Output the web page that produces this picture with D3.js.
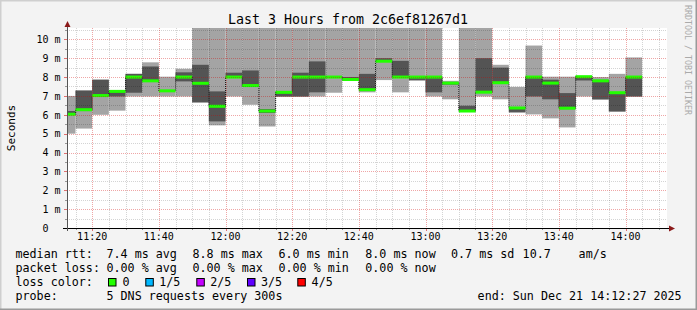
<!DOCTYPE html>
<html>
<head>
<meta charset="utf-8">
<script src="https://cdn.jsdelivr.net/npm/d3@7"></script>
<style>
html, body { margin: 0; padding: 0; background: #f3f3f3; }
svg { display: block; font-family: "DejaVu Sans Mono", monospace; }
</style>
</head>
<body>
<svg id="chart" width="697" height="310"></svg>
<script>
// --- DONNÉES (pas de 5 min, 5 pings DNS triés) ---
const stepStart = ["11:10","11:15","11:20","11:25","11:30","11:35","11:40","11:45","11:50","11:55",
                   "12:00","12:05","12:10","12:15","12:20","12:25","12:30","12:35","12:40","12:45",
                   "12:50","12:55","13:00","13:05","13:10","13:15","13:20","13:25","13:30","13:35",
                   "13:40","13:45","13:50","13:55","14:00"];
// valeurs en ms
const pingMin = [5.0,5.27,6.0,6.22,6.97,6.97,6.97,6.97,6.65,5.44,6.97,6.53,5.38,6.95,6.95,6.97,7.17,7.85,7.19,7.84,
                 7.19,7.82,6.97,6.82,6.17,6.97,6.82,6.1,6.02,5.81,5.33,6.97,6.8,6.16,6.96];
const ping2   = [6.0,6.2,6.98,6.97,7.17,7.75,7.25,7.77,6.66,5.65,7.95,7.52,6.1,6.97,6.97,7.19,7.95,7.86,7.3,8.8,
                 7.97,7.83,7.19,7.6,6.18,7.17,7.68,6.15,6.97,6.82,6.3,7.82,6.82,6.18,6.97];
const median  = [6.03,6.27,7.02,7.24,8.0,7.8,7.27,8.0,7.67,6.45,8.0,7.55,6.2,7.19,8.0,8.0,8.0,7.87,7.33,8.84,
                 8.0,8.0,8.0,7.68,6.2,7.2,7.7,6.36,8.0,7.68,6.35,8.02,7.8,7.17,8.0];
const ping4   = [6.2,7.28,7.86,7.28,8.17,8.56,7.3,8.25,8.65,7.24,8.23,8.35,6.3,7.22,8.23,8.83,8.05,8.0,8.17,9.0,
                 8.86,8.02,8.02,7.72,6.48,9.0,8.5,6.4,8.05,7.86,7.15,8.05,7.85,7.2,8.02];
const pingMax = [7.0,7.3,7.86,7.28,8.17,8.78,8.02,8.44,12,12,12,12,12,12,12,12,12,12,12,12,
                 12,12,12,7.8,12,12,8.65,7.48,9.67,8.02,8.02,8.05,8.0,8.17,9.04];
const yTicks = [0,1,2,3,4,5,6,7,8,9,10];

const lossLegend = [
    { label: "0",   color: "#22ff00" },
    { label: "1/5", color: "#00b8ff" },
    { label: "2/5", color: "#c400ff" },
    { label: "3/5", color: "#6000ff" },
    { label: "4/5", color: "#ff0000" }
];

const W = 697, H = 310;
const plot = { left: 67, right: 667, top: 28, bottom: 228 };
const parse = d3.timeParse("%Y-%m-%d %H:%M:%S");
const tEnd = parse("2025-12-21 14:12:27");
const tStart = parse("2025-12-21 11:12:27");

const x = d3.scaleTime().domain([tStart, tEnd]).range([plot.left, plot.right]);
const y = d3.scaleLinear().domain([0, 10.6]).range([plot.bottom, plot.top]);

const rows = stepStart.map((s, i) => {
    const t0 = parse(`2025-12-21 ${s}:00`);
    return { t0, t1: d3.timeMinute.offset(t0, 5), min: pingMin[i], p2: ping2[i], med: median[i], p4: ping4[i], max: pingMax[i] };
});

const svg = d3.select("#chart");

// cadre façon rrdtool
svg.append("rect").attr("width", W).attr("height", H).attr("fill", "#f3f3f3");
svg.append("path").attr("d", `M0,${H} V0 H${W}`).attr("fill", "none").attr("stroke", "#cfcfcf").attr("stroke-width", 3);
svg.append("path").attr("d", `M0,${H} H${W} V0`).attr("fill", "none").attr("stroke", "#9a9a9a").attr("stroke-width", 3);

svg.append("rect").attr("x", plot.left).attr("y", plot.top)
    .attr("width", plot.right - plot.left).attr("height", plot.bottom - plot.top).attr("fill", "#fff");

svg.append("clipPath").attr("id", "clip").append("rect")
    .attr("x", plot.left).attr("y", plot.top)
    .attr("width", plot.right - plot.left).attr("height", plot.bottom - plot.top);

const g = svg.append("g").attr("clip-path", "url(#clip)");
const sx0 = d => Math.max(x(d.t0), plot.left);
const sw = d => x(d.t1) - sx0(d);

// fumée : min..max clair, p2..p4 foncé
g.selectAll(".smoke-l").data(rows).join("rect")
    .attr("x", sx0).attr("width", sw)
    .attr("y", d => y(d.max)).attr("height", d => y(d.min) - y(d.max))
    .attr("fill", "#a4a4a4");
g.selectAll(".smoke-d").data(rows).join("rect")
    .attr("x", sx0).attr("width", sw)
    .attr("y", d => y(d.p4)).attr("height", d => y(d.p2) - y(d.p4))
    .attr("fill", "#545454");

// liaisons verticales de la médiane
const stepLine = d3.line().curve(d3.curveStepAfter).x(d => x(d.t)).y(d => y(d.v));
const medPts = rows.map(d => ({ t: d.t0, v: d.med }));
medPts.push({ t: rows[rows.length - 1].t1, v: rows[rows.length - 1].med });
g.append("path").attr("d", stepLine(medPts))
    .attr("fill", "none").attr("stroke", "#111").attr("stroke-width", 1).attr("stroke-dasharray", "1,1");

g.selectAll(".med").data(rows).join("rect")
    .attr("x", sx0).attr("width", sw)
    .attr("y", d => y(d.med) - 1.5).attr("height", 3)
    .attr("fill", lossLegend[0].color);

// grille
const minorT = d3.timeMinute.every(5).range(tStart, tEnd).filter(t => t.getMinutes() % 20 !== 0);
const majorT = d3.timeMinute.every(20).range(tStart, tEnd);
const minorY = d3.range(0.5, 10.6, 1);
const grid = svg.append("g").attr("fill", "none").attr("stroke-width", 1).attr("stroke-dasharray", "1,1");
grid.selectAll(".gx").data(minorT).join("line")
    .attr("x1", d => Math.round(x(d)) + 0.5).attr("x2", d => Math.round(x(d)) + 0.5)
    .attr("y1", plot.top).attr("y2", plot.bottom).attr("stroke", "rgba(0,0,0,0.17)");
grid.selectAll(".gy").data(minorY).join("line")
    .attr("y1", d => Math.round(y(d)) + 0.5).attr("y2", d => Math.round(y(d)) + 0.5)
    .attr("x1", plot.left).attr("x2", plot.right).attr("stroke", "rgba(0,0,0,0.17)");
grid.selectAll(".mx").data(majorT).join("line")
    .attr("x1", d => Math.round(x(d)) + 0.5).attr("x2", d => Math.round(x(d)) + 0.5)
    .attr("y1", plot.top).attr("y2", plot.bottom).attr("stroke", "rgba(210,0,0,0.35)");
grid.selectAll(".my").data(yTicks.filter(v => v > 0)).join("line")
    .attr("y1", d => Math.round(y(d)) + 0.5).attr("y2", d => Math.round(y(d)) + 0.5)
    .attr("x1", plot.left).attr("x2", plot.right).attr("stroke", "rgba(210,0,0,0.35)");

// axes
const axes = svg.append("g");
axes.selectAll(".tx").data(minorT).join("line")
    .attr("x1", d => Math.round(x(d)) + 0.5).attr("x2", d => Math.round(x(d)) + 0.5)
    .attr("y1", plot.bottom).attr("y2", plot.bottom + 2).attr("stroke", "#999");
axes.selectAll(".tX").data(majorT).join("line")
    .attr("x1", d => Math.round(x(d)) + 0.5).attr("x2", d => Math.round(x(d)) + 0.5)
    .attr("y1", plot.bottom).attr("y2", plot.bottom + 3).attr("stroke", "#e07070");
axes.selectAll(".ty").data(minorY).join("line")
    .attr("y1", d => Math.round(y(d)) + 0.5).attr("y2", d => Math.round(y(d)) + 0.5)
    .attr("x1", plot.left - 2).attr("x2", plot.left).attr("stroke", "#999");
axes.selectAll(".tY").data(yTicks).join("line")
    .attr("y1", d => Math.round(y(d)) + 0.5).attr("y2", d => Math.round(y(d)) + 0.5)
    .attr("x1", plot.left - 3).attr("x2", plot.left).attr("stroke", "#e07070");

axes.append("line").attr("x1", plot.left - 4).attr("x2", plot.right + 3)
    .attr("y1", plot.bottom + 0.5).attr("y2", plot.bottom + 0.5).attr("stroke", "#000");
axes.append("line").attr("x1", plot.left + 0.5).attr("x2", plot.left + 0.5)
    .attr("y1", plot.top - 4).attr("y2", plot.bottom + 3).attr("stroke", "#555");
axes.append("path").attr("d", `M${plot.left + 0.5},${plot.top - 7} l-3,6 h6 z`).attr("fill", "#8b1a1a");
axes.append("path").attr("d", `M${plot.right + 8},${plot.bottom + 0.5} l-6,-3 v6 z`).attr("fill", "#8b1a1a");

const fmt = d3.timeFormat("%H:%M");
axes.selectAll(".lx").data(majorT).join("text")
    .attr("x", d => x(d)).attr("y", 240).attr("text-anchor", "middle")
    .attr("font-size", 10).attr("fill", "#000").text(fmt);
axes.selectAll(".ly").data(yTicks).join("text")
    .attr("x", d => d === 0 ? 48.5 : 60.5).attr("y", d => y(d) + 3.8).attr("text-anchor", "end")
    .attr("font-size", 10).attr("fill", "#000").text(d => d === 0 ? "0" : `${d} m`);

// titres
svg.append("text").attr("x", 348).attr("y", 24).attr("text-anchor", "middle")
    .attr("font-size", 13.3).attr("fill", "#000").text("Last 3 Hours from 2c6ef81267d1");
svg.append("text").attr("transform", "translate(15,128) rotate(-90)").attr("text-anchor", "middle")
    .attr("font-size", 11).attr("fill", "#000").text("Seconds");
svg.append("text").attr("transform", "translate(685,5) rotate(90)")
    .attr("font-size", 8.3).attr("fill", "#aaa").text("RRDTOOL / TOBI OETIKER");

// légende
const leg = svg.append("g").attr("font-size", 11.7).attr("fill", "#000").style("white-space", "pre");
const put = (px, py, s) => leg.append("text").attr("x", px).attr("y", py).text(s);
put(15.5, 258, "median rtt:");
put(106.5, 258, "7.4 ms avg");
put(192.5, 258, "8.8 ms max");
put(278.5, 258, "6.0 ms min");
put(365.3, 258, "8.0 ms now");
put(451, 258, "0.7 ms sd");
put(522.6, 258, "10.7");
put(578.6, 258, "am/s");
put(15.5, 272, "packet loss:");
put(106.5, 272, "0.00 % avg");
put(192.5, 272, "0.00 % max");
put(278.5, 272, "0.00 % min");
put(365.3, 272, "0.00 % now");
put(15.5, 286, "loss color:");
const sqX = [108.5, 145.8, 196.8, 247.5, 297.8];
const lbX = [122.6, 159.3, 210.3, 261, 311.6];
lossLegend.forEach((l, i) => {
    leg.append("rect").attr("x", sqX[i]).attr("y", 278.5).attr("width", 7.5).attr("height", 7.5)
        .attr("fill", l.color).attr("stroke", "#000").attr("stroke-width", 1);
    put(lbX[i], 286, l.label);
});
put(15.5, 300, "probe:");
put(106.5, 300, "5 DNS requests every 300s");
put(477.6, 300, "end: Sun Dec 21 14:12:27 2025");
</script>
</body>
</html>
